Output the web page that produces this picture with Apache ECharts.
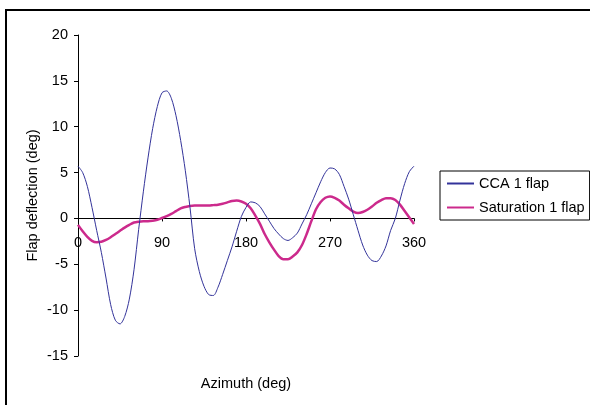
<!DOCTYPE html>
<html>
<head>
<meta charset="utf-8">
<script src="https://cdn.jsdelivr.net/npm/echarts@6/dist/echarts.min.js"></script>
<style>
html,body{margin:0;padding:0;background:#fff;}
#chart{width:590px;height:405px;}
</style>
</head>
<body>
<div id="chart"></div>
<script>
// Azimuth angles (deg), every 5 deg
var azimuth = [0,5,10,15,20,25,30,35,40,45,50,55,60,65,70,75,80,85,90,95,100,105,110,115,120,125,130,135,140,145,150,155,160,165,170,175,180,185,190,195,200,205,210,215,220,225,230,235,240,245,250,255,260,265,270,275,280,285,290,295,300,305,310,315,320,325,330,335,340,345,350,355,360];
// CCA 1 flap deflection (deg)
var cca = [5.7,5.0,3.5,1.2,-1.3,-3.7,-6.5,-9.4,-11.1,-11.5,-10.7,-8.8,-5.6,-1.2,2.9,6.6,9.8,12.2,13.7,13.9,13.1,11.2,8.5,5.2,1.2,-3.3,-5.8,-7.4,-8.3,-8.4,-7.5,-6.1,-4.6,-3.1,-1.4,0.2,1.2,1.8,1.7,1.3,0.5,-0.3,-1.1,-1.7,-2.2,-2.4,-2.1,-1.6,-0.6,0.4,1.6,2.8,4.0,5.0,5.5,5.4,4.8,3.5,2.1,0.4,-1.3,-2.9,-4.0,-4.6,-4.7,-4.1,-3.0,-1.3,0.0,2.0,3.8,5.1,5.7];
// Saturation 1 flap deflection (deg)
var saturation = [-0.7,-1.4,-2.0,-2.45,-2.6,-2.55,-2.35,-2.05,-1.7,-1.35,-1.0,-0.7,-0.45,-0.35,-0.3,-0.3,-0.25,-0.15,0.05,0.25,0.5,0.8,1.1,1.25,1.35,1.4,1.4,1.4,1.4,1.45,1.5,1.6,1.75,1.9,1.95,1.85,1.6,1.1,0.3,-0.6,-1.7,-2.6,-3.4,-4.1,-4.45,-4.45,-4.15,-3.7,-2.9,-1.7,-0.3,1.0,1.8,2.25,2.4,2.25,1.95,1.5,1.1,0.75,0.6,0.7,0.95,1.3,1.7,2.0,2.2,2.2,2.0,1.5,0.8,0.1,-0.6];
var xTicks = [0,90,180,270,360];
var yTicks = [-15,-10,-5,0,5,10,15,20];

function pairs(xs, ys){ return xs.map(function(x,i){ return [x, ys[i]]; }); }

var chart = echarts.init(document.getElementById('chart'), null, {renderer:'canvas'});
var font = 'Liberation Sans, Arial, sans-serif';
var fs = 14.5;
chart.setOption({
  animation:false,
  backgroundColor:'#ffffff',
  textStyle:{fontFamily:font},
  graphic:[{
    type:'rect', shape:{x:6, y:10, width:620, height:420},
    style:{fill:null, stroke:'#000', lineWidth:2}, silent:true
  }],
  grid:{left:78, right:176, top:35, bottom:49, containLabel:false, outerBoundsMode:'none'},
  legend:{
    orient:'vertical', left:440, top:171,
    padding:[5,5,5,6], itemGap:9, itemWidth:27, itemHeight:16,
    borderColor:'#000', borderWidth:1,
    itemStyle:{opacity:0},
    textStyle:{fontFamily:font, fontSize:fs, color:'#000'},
    data:['CCA 1 flap','Saturation 1 flap']
  },
  xAxis:{
    type:'value', min:xTicks[0], max:xTicks[xTicks.length-1], interval:90,
    name:'Azimuth (deg)', nameLocation:'middle', nameGap:20,
    nameTextStyle:{fontFamily:font, fontSize:fs, color:'#000'},
    axisLine:{onZero:true, lineStyle:{color:'#000', width:1}},
    axisTick:{show:true, length:3, lineStyle:{color:'#000'}},
    axisLabel:{fontFamily:font, fontSize:fs, color:'#000', margin:-121},
    splitLine:{show:false}
  },
  yAxis:{
    type:'value', min:yTicks[0], max:yTicks[yTicks.length-1], interval:5,
    name:'Flap deflection (deg)', nameLocation:'middle', nameGap:38, nameMoveOverlap:false,
    nameTextStyle:{fontFamily:font, fontSize:fs, color:'#000'},
    axisLine:{show:true, lineStyle:{color:'#000', width:1}},
    axisTick:{show:true, length:4, lineStyle:{color:'#000'}},
    axisLabel:{fontFamily:font, fontSize:fs, color:'#000', margin:10},
    splitLine:{show:false}
  },
  series:[
    {name:'CCA 1 flap', type:'line', data:pairs(azimuth, cca), smooth:0.3, symbol:'none',
     lineStyle:{color:'#33339a', width:1}, itemStyle:{color:'#33339a'}, z:3},
    {name:'Saturation 1 flap', type:'line', data:pairs(azimuth, saturation), smooth:0.3, symbol:'none',
     lineStyle:{color:'#cc2a8c', width:2.5}, itemStyle:{color:'#cc2a8c'}, z:2}
  ]
});
</script>
</body>
</html>
